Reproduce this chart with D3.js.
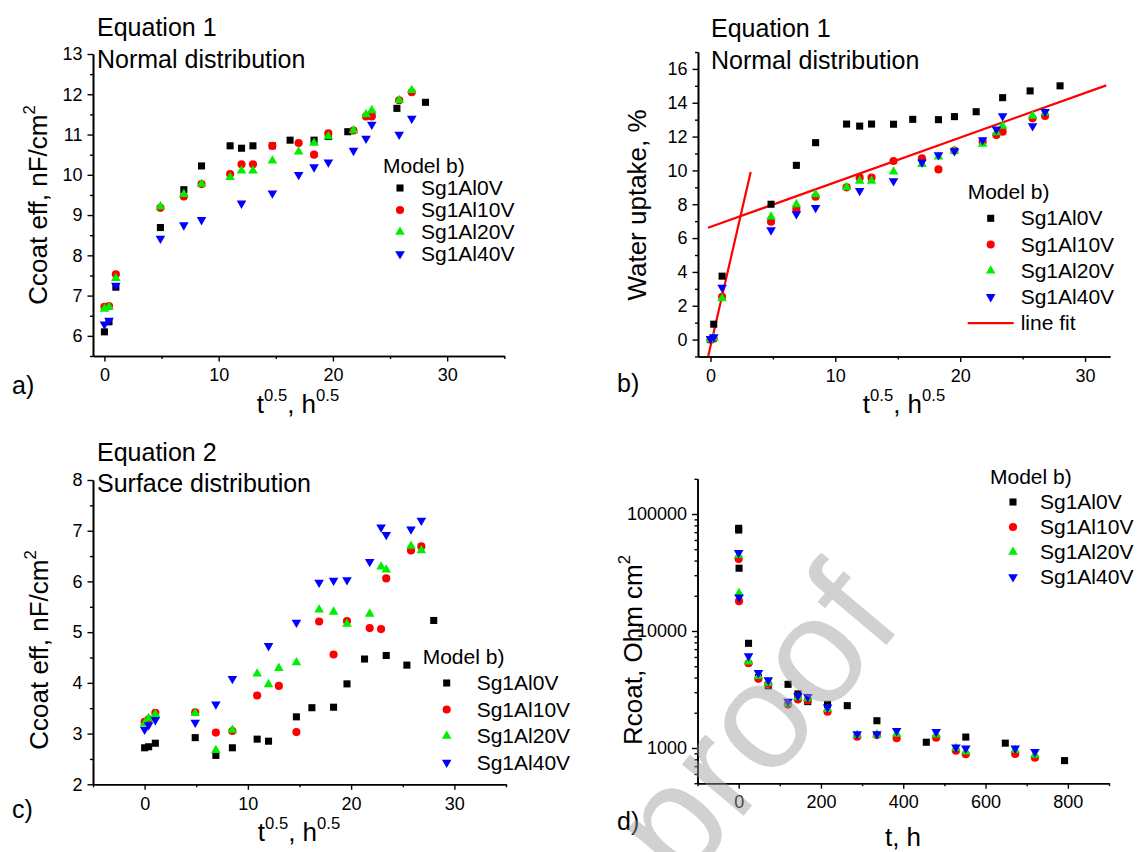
<!DOCTYPE html>
<html>
<head>
<meta charset="utf-8">
<script src="https://cdn.jsdelivr.net/npm/d3@7"></script>
<style>
  body { margin: 0; background: #fff; }
  svg { display: block; }
</style>
</head>
<body>
<svg id="fig" width="1142" height="852"></svg>
<script>
// ---------- data ----------
const seriesNames = ["Sg1Al0V", "Sg1Al10V", "Sg1Al20V", "Sg1Al40V"];

// (a) Equation 1, normal distribution: Ccoat eff (nF/cm2) vs t^0.5
const eq1C_0V  = [[0,6.10],[0.4,6.35],[1.0,7.21],[4.9,8.69],[6.95,9.63],[8.5,10.22],[11.0,10.72],[12.0,10.66],[13.0,10.72],[14.7,10.72],[16.25,10.86],[18.35,10.86],[19.6,10.95],[21.3,11.07],[23.4,11.5],[25.6,11.65],[28.1,11.8]];
const eq1C_10V = [[0,6.72],[0.4,6.74],[1.0,7.53],[4.9,9.18],[6.95,9.46],[8.5,9.77],[11.0,10.02],[12.0,10.26],[13.0,10.26],[14.7,10.72],[17.0,10.79],[18.35,10.5],[19.6,11.03],[21.8,11.1],[22.9,11.45],[23.4,11.45],[25.8,11.85],[26.9,12.05]];
const eq1C_20V = [[0,6.67],[0.4,6.72],[1.0,7.43],[4.9,9.21],[6.95,9.52],[8.5,9.77],[11.0,9.94],[12.0,10.10],[13.0,10.10],[14.7,10.35],[17.0,10.57],[18.35,10.79],[19.6,10.95],[21.8,11.1],[22.9,11.5],[23.4,11.6],[25.8,11.85],[26.9,12.1]];
const eq1C_40V = [[0,6.29],[0.4,6.38],[1.0,7.25],[4.9,8.42],[6.95,8.75],[8.5,8.88],[12.0,9.29],[14.7,9.54],[17.0,10.0],[18.35,10.19],[19.6,10.31],[21.8,10.6],[22.9,10.9],[23.4,11.25],[25.8,11.0],[26.9,11.4]];

// (b) Equation 1, normal distribution: water uptake (%) vs t^0.5
const uptake_0V  = [[0,0],[0.26,0.91],[0.93,3.75],[4.85,8.0],[6.88,10.3],[8.42,11.64],[10.9,12.74],[11.95,12.62],[12.9,12.74],[14.66,12.73],[16.2,13.02],[18.26,13.0],[19.54,13.18],[21.28,13.47],[23.4,14.3],[25.6,14.7],[28.0,15.0]];
const uptake_10V = [[0,0],[0.26,0.05],[0.93,2.53],[4.85,6.97],[6.88,7.7],[8.42,8.44],[10.9,9.0],[11.95,9.57],[12.9,9.57],[14.66,10.56],[16.94,10.72],[18.26,10.06],[19.54,11.17],[21.8,11.7],[22.9,12.09],[23.4,12.29],[25.8,13.08],[26.8,13.22]];
const uptake_20V = [[0,0],[0.26,0.1],[0.93,2.43],[4.85,7.26],[6.88,7.99],[8.42,8.58],[10.9,9.0],[11.95,9.37],[12.9,9.37],[14.66,9.92],[16.94,10.36],[18.26,10.81],[19.54,11.15],[21.8,11.56],[22.9,12.25],[23.4,12.63],[25.8,13.22],[26.8,13.41]];
const uptake_40V = [[0,0.05],[0.26,0.15],[0.93,3.08],[4.85,6.47],[6.88,7.42],[8.42,7.79],[11.95,8.8],[14.66,9.37],[16.94,10.48],[18.26,10.91],[19.54,11.15],[21.8,11.8],[22.9,12.43],[23.4,13.22],[25.8,12.63],[26.8,13.47]];
// straight-line fits: uptake = intercept + slope * t^0.5
const fitSlopes     = [3.2, 0.264];
const fitIntercepts = [-0.4, 6.66];
const fitSpans      = [[-0.18, 3.22], [-0.2, 31.7]];

// (c) Equation 2, surface distribution: Ccoat eff (nF/cm2) vs t^0.5
const eq2C_0V  = [[0,2.72],[0.39,2.74],[1.04,2.81],[4.9,2.92],[6.9,2.57],[8.5,2.72],[10.9,2.89],[12.0,2.85],[14.7,3.33],[16.2,3.51],[18.3,3.52],[19.6,3.98],[21.3,4.47],[23.4,4.54],[25.4,4.35],[28.0,5.23]];
const eq2C_10V = [[0,3.23],[0.39,3.28],[1.04,3.41],[4.9,3.42],[6.9,3.02],[8.5,3.05],[10.9,3.75],[13.0,3.94],[14.7,3.03],[16.9,5.21],[18.3,4.56],[19.6,5.22],[21.8,5.08],[22.9,5.06],[23.4,6.06],[25.8,6.61],[26.8,6.69]];
const eq2C_20V = [[0,3.2],[0.39,3.3],[1.04,3.38],[4.9,3.4],[6.9,2.67],[8.5,3.07],[10.9,4.18],[12.0,3.97],[13.0,4.29],[14.7,4.40],[16.9,5.44],[18.3,5.40],[19.6,5.16],[21.8,5.36],[22.9,6.29],[23.4,6.23],[25.8,6.70],[26.8,6.61]];
const eq2C_40V = [[0,3.08],[0.39,3.17],[1.04,3.27],[4.9,3.22],[6.9,3.58],[8.5,4.08],[12.0,4.73],[14.7,5.19],[16.9,5.98],[18.3,6.02],[19.6,6.03],[21.8,6.39],[22.9,7.07],[23.4,6.92],[25.8,7.03],[26.8,7.2]];

// (d) Rcoat (Ohm cm2) vs t (h)
const rcoat_0V  = [[0,75500],[0.07,72900],[1,34400],[24,7850],[48,4000],[72,3400],[120,3500],[144,2900],[168,2490],[216,2360],[264,2300],[336,1710],[456,1120],[552,1240],[648,1100],[792,780]];
const rcoat_10V = [[0,41200],[1,18000],[24,5300],[48,3900],[72,3500],[120,2350],[144,2600],[168,2550],[216,2040],[288,1250],[336,1290],[384,1210],[480,1225],[528,948],[552,884],[672,889],[720,826]];
const rcoat_20V = [[0,44400],[1,21000],[24,5470],[48,4100],[72,3600],[120,2400],[144,2700],[168,2650],[216,2140],[288,1290],[336,1300],[384,1320],[480,1300],[528,994],[552,928],[672,961],[720,871]];
const rcoat_40V = [[0,46700],[1,19400],[24,6110],[48,4400],[72,3810],[120,2500],[144,2800],[168,2745],[216,2227],[288,1317],[336,1317],[384,1406],[480,1378],[528,1014],[552,994],[672,994],[720,930]];

// axis ticks
const sqrtTimeMajor = [0, 10, 20, 30];
const ccoatAMajor = [6, 7, 8, 9, 10, 11, 12, 13];
const uptakeMajor = [0, 2, 4, 6, 8, 10, 12, 14, 16];
const ccoatCMajor = [2, 3, 4, 5, 6, 7, 8];
const hoursMajor = [0, 200, 400, 600, 800];
const rcoatMajor = [1000, 10000, 100000];

// ---------- style ----------
const FONT = "'Liberation Sans', Arial, Helvetica, sans-serif";
const colors = ["#000000", "#ff0000", "#00ee00", "#0000ff"];
const shapes = ["square", "circle", "triangle", "triangleDown"];
const AXIS_TITLE_SIZE = 26;

const svg = d3.select("#fig").style("font-family", FONT);

function symbolPath(shape) {
  if (shape === "square") return d3.symbol(d3.symbolSquare, 50)();
  if (shape === "circle") return d3.symbol(d3.symbolCircle, 52)();
  return d3.symbol(d3.symbolTriangle, 40)();
}
function drawMarker(sel, i, cx, cy) {
  sel.append("path")
    .attr("d", symbolPath(shapes[i]))
    .attr("transform", `translate(${cx},${cy})` + (shapes[i] === "triangleDown" ? " rotate(180)" : ""))
    .attr("fill", colors[i]);
}

// text with superscripts: parts = [[text, isSup], ...]
function richText(sel, parts, size) {
  parts.forEach(([t, sup], k) => {
    const prevSup = k > 0 && parts[k - 1][1];
    sel.append("tspan")
      .attr("font-size", sup ? size * 0.64 : size)
      .attr("dy", sup ? -size * 0.45 : (prevSup ? size * 0.45 : 0))
      .text(t);
  });
  return sel;
}

function panel(o) {
  const g = svg.append("g");
  const x = d3.scaleLinear().domain(o.xDomain).range(o.xRange);
  const y = (o.yLog ? d3.scaleLog() : d3.scaleLinear()).domain(o.yDomain).range(o.yRange);
  const x0 = o.xRange[0], y0 = o.yRange[0];

  const styleAxis = a => {
    a.selectAll("path.domain").attr("stroke", "#000").attr("stroke-width", 1.6);
    a.selectAll(".tick line").attr("stroke", "#000").attr("stroke-width", 1.4);
    a.selectAll(".tick text").attr("fill", "#000").attr("font-size", 18).attr("font-family", FONT);
  };

  // minor ticks first, then the labelled major ticks
  g.append("g").attr("transform", `translate(0,${y0})`)
    .call(d3.axisBottom(x).tickValues(o.xMinor).tickSize(3).tickSizeOuter(0).tickFormat(""))
    .call(styleAxis);
  g.append("g").attr("transform", `translate(0,${y0})`)
    .call(d3.axisBottom(x).tickValues(o.xMajor).tickSize(5.5).tickSizeOuter(0).tickPadding(7).tickFormat(d3.format("d")))
    .call(styleAxis);
  g.append("g").attr("transform", `translate(${x0},0)`)
    .call(d3.axisLeft(y).tickValues(o.yMinor).tickSize(3).tickSizeOuter(0).tickFormat(""))
    .call(styleAxis);
  g.append("g").attr("transform", `translate(${x0},0)`)
    .call(d3.axisLeft(y).tickValues(o.yMajor).tickSize(5.5).tickSizeOuter(0).tickPadding(5).tickFormat(d3.format("d")))
    .call(styleAxis);

  // fitted lines
  (o.lines || []).forEach(l => {
    g.append("path")
      .attr("d", d3.line().x(d => x(d[0])).y(d => y(d[1]))(l))
      .attr("fill", "none").attr("stroke", "#ff0000").attr("stroke-width", 2.2);
  });

  // data points
  o.series.forEach((data, i) => {
    const sg = g.append("g");
    data.forEach(d => drawMarker(sg, i, x(d[0]), y(d[1])));
  });

  // titles
  o.titles.forEach(t => g.append("text").attr("x", t[0]).attr("y", t[1]).attr("font-size", 25).text(t[2]));

  // axis titles
  richText(g.append("text").attr("x", o.xTitlePos[0]).attr("y", o.xTitlePos[1]).attr("text-anchor", "middle"), o.xTitle, AXIS_TITLE_SIZE);
  richText(g.append("text").attr("text-anchor", "middle")
    .attr("transform", `translate(${o.yTitlePos[0]},${o.yTitlePos[1]}) rotate(-90)`), o.yTitle, AXIS_TITLE_SIZE);

  // panel letter
  g.append("text").attr("x", o.letterPos[0]).attr("y", o.letterPos[1]).attr("font-size", 25).text(o.letter);

  // legend
  const L = o.legend;
  g.append("text").attr("x", L.x).attr("y", L.rows[0] - L.step + 7).attr("font-size", 21).text("Model b)");
  seriesNames.forEach((name, i) => {
    drawMarker(g, i, L.mx, L.rows[0] + i * L.step);
    g.append("text").attr("x", L.tx).attr("y", L.rows[0] + i * L.step + 7).attr("font-size", 21).text(name);
  });
  if (o.lines) {
    const yy = L.rows[0] + 4 * L.step;
    g.append("line").attr("x1", L.x).attr("x2", L.tx - 7).attr("y1", yy).attr("y2", yy)
      .attr("stroke", "#ff0000").attr("stroke-width", 2.2);
    g.append("text").attr("x", L.tx).attr("y", yy + 7).attr("font-size", 21).text("line fit");
  }
}

const halfSteps = (a, b) => d3.range(a, b + 0.001, 1);
const sqrtTitle = [["t", false], ["0.5", true], [", h", false], ["0.5", true]];

// (a)
panel({
  xDomain: [-1, 35], xRange: [93, 504.3], yDomain: [5.5, 13], yRange: [356, 54],
  xMajor: sqrtTimeMajor, xMinor: [5, 15, 25, 35],
  yMajor: ccoatAMajor, yMinor: halfSteps(5.5, 12.5),
  series: [eq1C_0V, eq1C_10V, eq1C_20V, eq1C_40V],
  titles: [[97, 36, "Equation 1"], [97, 68, "Normal distribution"]],
  xTitle: sqrtTitle, xTitlePos: [298, 413],
  yTitle: [["Ccoat eff, nF/cm", false], ["2", true]], yTitlePos: [47, 205],
  letter: "a)", letterPos: [12, 394],
  legend: { x: 383, mx: 400, tx: 421, rows: [188, 210, 232, 254], step: 22 }
});

// (b)
panel({
  xDomain: [-1, 32], xRange: [698, 1110], yDomain: [-1, 17], yRange: [356.5, 52],
  xMajor: sqrtTimeMajor, xMinor: [5, 15, 25],
  yMajor: uptakeMajor, yMinor: d3.range(-1, 17.5, 2),
  series: [uptake_0V, uptake_10V, uptake_20V, uptake_40V],
  lines: fitSlopes.map((s, k) => fitSpans[k].map(t => [t, fitIntercepts[k] + s * t])),
  titles: [[711, 37, "Equation 1"], [711, 69, "Normal distribution"]],
  xTitle: sqrtTitle, xTitlePos: [904, 413],
  yTitle: [["Water uptake, %", false]], yTitlePos: [646, 205],
  letter: "b)", letterPos: [617, 392],
  legend: { x: 967.7, mx: 990.7, tx: 1020.7, rows: [218.3, 244.5, 270.7, 296.9], step: 26.2 }
});

// (c)
panel({
  xDomain: [-5, 35], xRange: [93, 506], yDomain: [2, 8], yRange: [784.3, 480],
  xMajor: sqrtTimeMajor, xMinor: [-5, 5, 15, 25, 35],
  yMajor: ccoatCMajor, yMinor: halfSteps(2.5, 7.5),
  series: [eq2C_0V, eq2C_10V, eq2C_20V, eq2C_40V],
  titles: [[97, 461, "Equation 2"], [97, 492, "Surface distribution"]],
  xTitle: sqrtTitle, xTitlePos: [299, 841],
  yTitle: [["Ccoat eff, nF/cm", false], ["2", true]], yTitlePos: [48, 650],
  letter: "c)", letterPos: [12, 818],
  legend: { x: 422.7, mx: 446.7, tx: 476.7, rows: [683, 709.5, 736, 762.5], step: 26.5 }
});

// (d)
const rcoatMinor = [];
[100, 1000, 10000].forEach(dec => d3.range(2, 10).forEach(m => rcoatMinor.push(m * dec)));
panel({
  xDomain: [-100, 900], xRange: [697.5, 1109], yDomain: [500, 200000], yLog: true, yRange: [783.2, 478.8],
  xMajor: hoursMajor, xMinor: [-100, 100, 300, 500, 700, 900],
  yMajor: rcoatMajor, yMinor: rcoatMinor.filter(v => v >= 500).concat([200000]),
  series: [rcoat_0V, rcoat_10V, rcoat_20V, rcoat_40V],
  titles: [],
  xTitle: [["t, h", false]], xTitlePos: [903, 846],
  yTitle: [["Rcoat, Ohm cm", false], ["2", true]], yTitlePos: [642, 650],
  letter: "d)", letterPos: [617, 830],
  legend: { x: 990, mx: 1013, tx: 1040, rows: [502, 527, 552, 577], step: 25 }
});

// "Journal Pre-proof" watermark across the lower right
svg.append("text")
  .attr("transform", "translate(905,623) rotate(-50)")
  .attr("text-anchor", "end")
  .attr("font-size", 152)
  .attr("fill", "#9a9a9a")
  .attr("fill-opacity", 0.45)
  .text("Journal Pre-proof");
</script>
</body>
</html>
